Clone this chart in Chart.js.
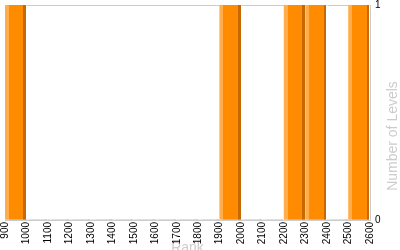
<!DOCTYPE html>
<html>
<head>
<meta charset="utf-8">
<script src="https://cdn.jsdelivr.net/npm/chart.js@4/dist/chart.umd.min.js"></script>
<style>
  html, body { margin: 0; padding: 0; background: #fff; overflow: hidden; width: 400px; height: 250px; }
  #wrap { width: 400px; height: 257px; }
</style>
</head>
<body>
<div id="wrap"><canvas id="c"></canvas></div>
<script>
// histogram bins (start of each 100-wide bin) and counts
const binStarts = [900, 1000, 1100, 1200, 1300, 1400, 1500, 1600, 1700, 1800, 1900, 2000, 2100, 2200, 2300, 2400, 2500];
const levelCounts = [1, 0, 0, 0, 0, 0, 0, 0, 0, 0, 1, 0, 0, 1, 1, 0, 1];
const binWidth = 100;
const xMin = 900;
const xMax = 2600;
const yTitle = 'Number of Levels';

const points = binStarts.map((b, i) => ({ x: b + binWidth / 2, y: levelCounts[i] }));

function barFill(ctx) {
  const chart = ctx.chart;
  const xs = chart.scales.x;
  if (!xs || ctx.dataIndex === undefined) return '#ff8c00';
  const start = binStarts[ctx.dataIndex];
  const x0 = xs.getPixelForValue(start);
  const x1 = xs.getPixelForValue(start + binWidth);
  if (!isFinite(x0) || !isFinite(x1) || x1 <= x0) return '#ff8c00';
  const g = chart.ctx.createLinearGradient(x0, 0, x1, 0);
  g.addColorStop(0, '#ffad4d');
  g.addColorStop(0.17, '#ffad4d');
  g.addColorStop(0.17, '#ff8c00');
  g.addColorStop(0.84, '#ff8c00');
  g.addColorStop(0.84, '#c66a00');
  g.addColorStop(0.97, '#c66a00');
  g.addColorStop(0.97, '#ffffff');
  g.addColorStop(1, '#ffffff');
  return g;
}

// right-side title reading bottom to top
const rightTitle = {
  id: 'rightTitle',
  afterDraw(chart) {
    const { ctx } = chart;
    ctx.save();
    ctx.translate(393, 136);
    ctx.rotate(-Math.PI / 2);
    ctx.font = '14px "Liberation Sans"';
    ctx.fillStyle = '#cccccc';
    ctx.textAlign = 'center';
    ctx.textBaseline = 'middle';
    ctx.fillText(yTitle, 0, 0);
    ctx.restore();
  },
};

new Chart(document.getElementById('c'), {
  type: 'bar',
  data: {
    datasets: [{
      label: yTitle,
      data: points,
      backgroundColor: barFill,
      borderWidth: 0,
      barPercentage: 1,
      categoryPercentage: 1,
    }],
  },
  plugins: [rightTitle],
  options: {
    responsive: true,
    maintainAspectRatio: false,
    animation: false,
    layout: { padding: { left: 5, top: 5, right: 0, bottom: 0 } },
    plugins: { legend: { display: false }, tooltip: { enabled: false } },
    scales: {
      x: {
        type: 'linear',
        min: xMin,
        max: xMax,
        offset: false,
        ticks: {
          stepSize: 100,
          minRotation: 90,
          maxRotation: 90,
          autoSkip: false,
          color: '#000',
          padding: 2,
          font: { family: 'Liberation Sans', size: 10 },
          callback: (v) => String(v),
        },
        grid: {
          color: (c) => (c.tick && c.tick.value === xMin ? '#cccccc' : 'rgba(0,0,0,0)'),
          drawTicks: false,
        },
        border: { color: '#cccccc' },
        title: {
          display: true,
          text: 'Rank',
          color: '#cccccc',
          padding: 0,
          font: { family: 'Liberation Sans', size: 14 },
        },
        afterFit: (s) => { s.height = 37; s.paddingLeft = 0; s.paddingRight = 0; },
      },
      y: {
        position: 'right',
        min: 0,
        max: 1,
        ticks: {
          stepSize: 1,
          color: '#000',
          padding: 5,
          font: { family: 'Liberation Sans', size: 10 },
        },
        grid: {
          color: (c) => (c.tick && c.tick.value === 1 ? '#cccccc' : 'rgba(0,0,0,0)'),
          drawTicks: false,
        },
        border: { color: '#cccccc' },
        title: { display: false },
        afterFit: (s) => { s.width = 30; s.paddingTop = 0; s.paddingBottom = 0; },
      },
    },
  },
});
</script>
</body>
</html>
